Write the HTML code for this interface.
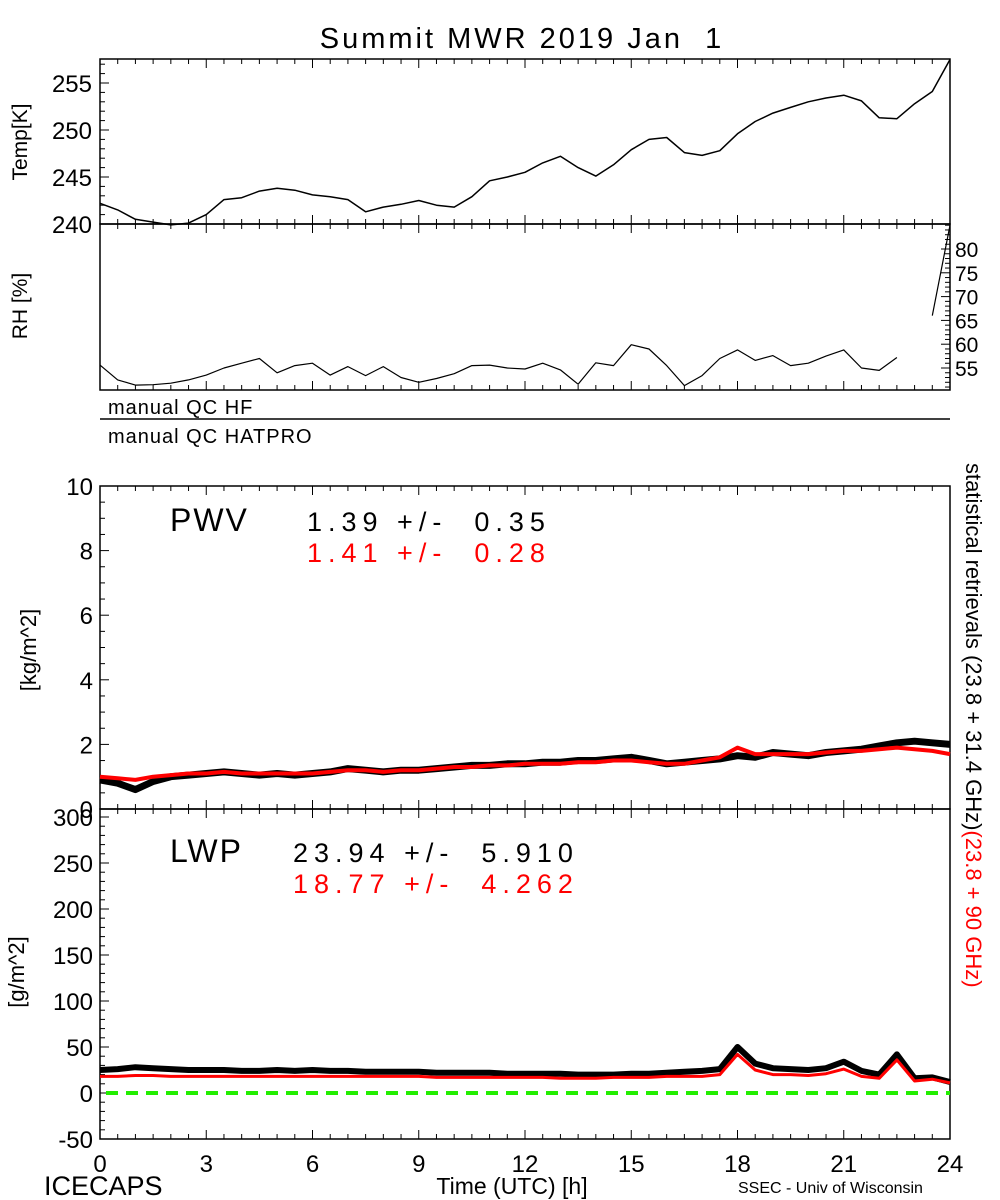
<!DOCTYPE html>
<html><head><meta charset="utf-8"><style>
body{margin:0;background:#fff}
svg{display:block;font-family:"Liberation Sans",sans-serif}
text{white-space:pre}
</style></head><body>
<svg id="c" width="1000" height="1200"></svg>
<script>
const hours=[0,0.5,1,1.5,2,2.5,3,3.5,4,4.5,5,5.5,6,6.5,7,7.5,8,8.5,9,9.5,10,10.5,11,11.5,12,12.5,13,13.5,14,14.5,15,15.5,16,16.5,17,17.5,18,18.5,19,19.5,20,20.5,21,21.5,22,22.5,23,23.5,24];
const tempK=[242.2,241.5,240.5,240.2,239.9,240.1,241,242.6,242.8,243.5,243.8,243.6,243.1,242.9,242.6,241.3,241.8,242.1,242.5,242,241.8,242.9,244.6,245,245.5,246.5,247.2,246,245.1,246.3,247.9,249,249.2,247.6,247.3,247.8,249.6,250.9,251.8,252.4,253,253.4,253.7,253.1,251.3,251.2,252.8,254.1,257.5];
const rhPct=[55.6,52.5,51.4,51.5,51.8,52.5,53.5,55,56,57,54,55.5,56,53.5,55.3,53.4,55.3,53,52,52.8,53.8,55.5,55.6,55,54.8,56,54.6,51.6,56.1,55.5,59.9,59,55.5,51.3,53.4,57,58.8,56.6,57.6,55.5,56,57.5,58.8,55,54.5,57.2,null,66,85];
const pwvBlack=[0.9,0.8,0.6,0.85,1.0,1.05,1.1,1.15,1.1,1.05,1.1,1.05,1.1,1.15,1.25,1.2,1.15,1.2,1.2,1.25,1.3,1.35,1.35,1.4,1.4,1.45,1.45,1.5,1.5,1.55,1.6,1.5,1.4,1.45,1.5,1.55,1.65,1.6,1.75,1.7,1.65,1.75,1.8,1.85,1.95,2.05,2.1,2.05,2.0];
const pwvRed=[1.0,0.95,0.9,1.0,1.05,1.1,1.1,1.15,1.1,1.1,1.1,1.1,1.1,1.15,1.2,1.2,1.15,1.2,1.2,1.25,1.3,1.3,1.35,1.35,1.4,1.4,1.4,1.45,1.45,1.5,1.5,1.45,1.4,1.4,1.5,1.6,1.9,1.7,1.7,1.7,1.7,1.75,1.8,1.8,1.85,1.9,1.85,1.8,1.7];
const lwpBlack=[25,26,28,27,26,25,25,25,24,24,25,24,25,24,24,23,23,23,23,22,22,22,22,21,21,21,21,20,20,20,21,21,22,23,24,26,50,32,27,26,25,27,34,24,20,42,16,17,12];
const lwpRed=[18,18,19,19,18,18,18,18,18,18,18,18,18,18,18,18,18,18,18,17,17,17,17,17,17,17,16,16,16,17,17,17,18,18,18,20,42,25,20,20,19,21,26,18,16,36,13,15,11];
const xTicks=[0,3,6,9,12,15,18,21,24];
const tempTicks=[240,245,250,255];
const rhTicks=[55,60,65,70,75,80];
const pwvTicks=[0,2,4,6,8,10];
const lwpTicks=[-50,0,50,100,150,200,250,300];

const S=document.getElementById('c'),NS='http://www.w3.org/2000/svg';
function el(t,a,p){const e=document.createElementNS(NS,t);for(const k in a)e.setAttribute(k,a[k]);(p||S).appendChild(e);return e;}
const X0=100,X1=950;
const x=h=>X0+(X1-X0)*h/24;
function ys(v0,p0,v1,p1){return v=>p0+(v-v0)*(p1-p0)/(v1-v0);}
const yT=ys(240,224,255,83),yR=ys(55,368,80,249),yP=ys(0,809,10,486),yL=ys(0,1093,300,817);
function txt(s,a,col){const t=el('text',Object.assign({fill:col||'#000'},a));t.textContent=s;return t;}
function frame(top,bot,name){
 const r=el('rect',{x:X0,y:top,width:X1-X0,height:bot-top,fill:'none',stroke:'#000','stroke-width':1.5});
 
 for(let h=0;h<=24;h+=0.5){const L=(h%3===0)?9:5;
  el('line',{x1:x(h),x2:x(h),y1:bot,y2:bot-L,stroke:'#000'});
  el('line',{x1:x(h),x2:x(h),y1:top,y2:top+L,stroke:'#000'});}
}
function yticks(vals,f,top,bot,right,minor){
 for(let v=vals[0]-minor*10;v<=vals[vals.length-1]+minor*10;v+=minor){const y=f(v);if(y<top-0.5||y>bot+0.5)continue;
  const major=vals.some(t=>Math.abs(t-v)<1e-6);const L=major?9:5;
  if(right) el('line',{x1:X1,x2:X1-L,y1:y,y2:y,stroke:'#000'}); else el('line',{x1:X0,x2:X0+L,y1:y,y2:y,stroke:'#000'});}
}
function path(arr,f,col,w,name,dash){
 let d='',pen=false;arr.forEach((v,i)=>{if(v===null){pen=false;return;}d+=(pen?'L':'M')+x(hours[i]).toFixed(1)+','+f(v).toFixed(1);pen=true;});
 const p=el('path',{d:d,fill:'none',stroke:col,'stroke-width':w,'stroke-linejoin':'round'});
 if(dash)p.setAttribute('stroke-dasharray',dash);
 
}
txt('Summit MWR 2019 Jan  1',{x:522,y:48,'font-size':29,'text-anchor':'middle','letter-spacing':3});
frame(59,224,'temp-panel');yticks(tempTicks,yT,59,224,false,1);
tempTicks.forEach(v=>txt(String(v),{x:92,y:yT(v)+9,'font-size':24,'text-anchor':'end'}));
txt('Temp[K]',{x:0,y:0,'font-size':21,'text-anchor':'middle',transform:'translate(27,142) rotate(-90)'});
path(tempK,yT,'#000',1.5,'temp-line');
frame(224,390,'rh-panel');yticks(rhTicks,yR,224,390,true,1);
rhTicks.forEach(v=>txt(String(v),{x:955,y:yR(v)+8,'font-size':21}));
txt('RH [%]',{x:0,y:0,'font-size':21,'text-anchor':'middle',transform:'translate(27,306) rotate(-90)'});
path(rhPct,yR,'#000',1.2,'rh-line');
txt('manual QC HF',{x:108,y:414,'font-size':20,'letter-spacing':1});
el('line',{x1:X0,x2:X1,y1:419,y2:419,stroke:'#000','stroke-width':1.5});
txt('manual QC HATPRO',{x:108,y:443,'font-size':20,'letter-spacing':1});
frame(486,809,'pwv-panel');yticks(pwvTicks,yP,486,809,false,0.5);
pwvTicks.forEach(v=>txt(String(v),{x:93,y:yP(v)+9,'font-size':24,'text-anchor':'end'}));
txt('[kg/m^2]',{x:0,y:0,'font-size':22,'text-anchor':'middle',transform:'translate(36,650) rotate(-90)'});
path(pwvBlack,yP,'#000',7,'pwv-black-line');
path(pwvRed,yP,'#f00',4,'pwv-red-line');
txt('PWV',{x:170,y:531,'font-size':32,'letter-spacing':2});
txt('1.39 +/-  0.35',{x:307,y:531,'font-size':27,'letter-spacing':6});
txt('1.41 +/-  0.28',{x:307,y:562,'font-size':27,'letter-spacing':6},'#f00');
frame(809,1139,'lwp-panel');yticks(lwpTicks,yL,809,1139,false,10);
lwpTicks.forEach(v=>txt(String(v),{x:93,y:yL(v)+9,'font-size':24,'text-anchor':'end'}));
txt('[g/m^2]',{x:0,y:0,'font-size':22,'text-anchor':'middle',transform:'translate(24,972) rotate(-90)'});
const zl=el('line',{x1:x(0)+6,x2:X1,y1:yL(0),y2:yL(0),stroke:'#22ee00','stroke-width':4,'stroke-dasharray':'12,8'});

path(lwpBlack,yL,'#000',6,'lwp-black-line');
path(lwpRed,yL,'#f00',3,'lwp-red-line');
txt('LWP',{x:170,y:862,'font-size':32,'letter-spacing':2});
txt('23.94 +/-  5.910',{x:293,y:862,'font-size':27,'letter-spacing':6});
txt('18.77 +/-  4.262',{x:293,y:893,'font-size':27,'letter-spacing':6},'#f00');
xTicks.forEach(h=>txt(String(h),{x:x(h),y:1172,'font-size':24,'text-anchor':'middle'}));
txt('Time (UTC) [h]',{x:512,y:1194,'font-size':23,'text-anchor':'middle'});
txt('ICECAPS',{x:44,y:1195,'font-size':27});
txt('SSEC - Univ of Wisconsin',{x:738,y:1193,'font-size':16});
const rt=el('text',{x:0,y:0,'font-size':22,transform:'translate(966,463) rotate(90)'});

const t1=el('tspan',{fill:'#000'},rt);t1.textContent='statistical retrievals (23.8 + 31.4 GHz)';
const t2=el('tspan',{fill:'#f00'},rt);t2.textContent='(23.8 + 90 GHz)';
</script>
</body></html>
